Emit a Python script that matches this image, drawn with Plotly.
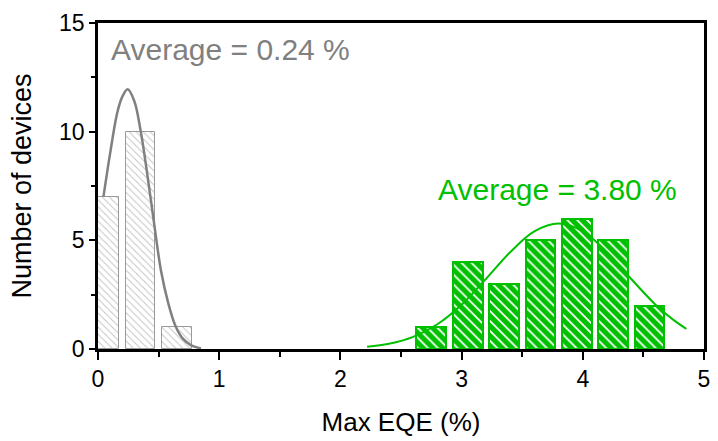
import plotly.graph_objects as go

# ---- data ----
gray_centers = [0.05, 0.35, 0.65]
gray_counts = [7, 10, 1]
green_centers = [2.75, 3.05, 3.35, 3.65, 3.95, 4.25, 4.55]
green_counts = [1, 4, 3, 5, 6, 5, 2]
bar_width = 0.245

gray_fit_x = [0.045, 0.10, 0.16, 0.20, 0.245, 0.30, 0.35, 0.40, 0.46, 0.52, 0.58, 0.64, 0.70, 0.77, 0.85]
gray_fit_y = [7.0, 9.0, 10.9, 11.6, 11.95, 11.4, 10.1, 8.3, 5.9, 3.6, 2.1, 1.05, 0.48, 0.17, 0.03]
green_fit_x = [2.22, 2.40, 2.60, 2.80, 3.00, 3.20, 3.40, 3.60, 3.80, 4.00, 4.20, 4.40, 4.60, 4.75, 4.854]
green_fit_y = [0.10, 0.24, 0.56, 1.14, 2.04, 3.22, 4.45, 5.41, 5.77, 5.41, 4.45, 3.22, 2.04, 1.33, 0.93]

x_ticks = [0, 1, 2, 3, 4, 5]
y_ticks = [0, 5, 10, 15]

GRAY = "#808080"
GREEN = "#00C000"
FONT = "Liberation Sans, Arial, sans-serif"

fig = go.Figure()
fig.add_trace(go.Bar(
    x=gray_centers, y=gray_counts, width=[bar_width] * len(gray_centers),
    marker=dict(color="white", line=dict(color="#9a9a9a", width=1),
                pattern=dict(shape="\\", fgcolor="#8a8a8a", bgcolor="white", size=5, solidity=0.2)),
    showlegend=False))
fig.add_trace(go.Bar(
    x=green_centers, y=green_counts, width=[bar_width] * len(green_centers),
    marker=dict(color="white", line=dict(color=GREEN, width=2),
                pattern=dict(shape="\\", fgcolor=GREEN, fgopacity=1, bgcolor="white",
                             size=7, solidity=0.75)),
    showlegend=False))
fig.add_trace(go.Scatter(x=gray_fit_x, y=gray_fit_y, mode="lines",
                         line=dict(color=GRAY, width=2.5, shape="spline"), showlegend=False))
fig.add_trace(go.Scatter(x=green_fit_x, y=green_fit_y, mode="lines",
                         line=dict(color=GREEN, width=2, shape="spline"), showlegend=False))

fig.add_annotation(x=1.09, y=13.78, text="Average = 0.24 %", showarrow=False,
                   xanchor="center", yanchor="middle", font=dict(family=FONT, size=30, color=GRAY))
fig.add_annotation(x=3.79, y=7.32, text="Average = 3.80 %", showarrow=False,
                   xanchor="center", yanchor="middle", font=dict(family=FONT, size=30, color=GREEN))

fig.update_layout(
    width=718, height=441,
    margin=dict(l=98, r=8, t=23, b=90),
    plot_bgcolor="white", paper_bgcolor="white",
    barmode="overlay", bargap=0,
    font=dict(family=FONT, color="black"),
)
fig.update_xaxes(
    range=[0, 5], tickvals=x_ticks, ticktext=[str(v) for v in x_ticks],
    showgrid=False, zeroline=False,
    showline=True, linecolor="black", linewidth=2.5, mirror=True,
    ticks="outside", ticklen=8, tickwidth=2, tickcolor="black",
    tickfont=dict(family=FONT, size=23, color="black"),
    minor=dict(dtick=0.5, tick0=0, ticks="outside", ticklen=5, tickwidth=2, tickcolor="black"),
    title=dict(text="Max EQE (%)", font=dict(family=FONT, size=26, color="black"), standoff=22),
)
fig.update_yaxes(
    range=[0, 15], tickvals=y_ticks, ticktext=[str(v) for v in y_ticks],
    showgrid=False, zeroline=False,
    showline=True, linecolor="black", linewidth=2.5, mirror=True,
    ticks="outside", ticklen=6, tickwidth=2, tickcolor="black",
    tickfont=dict(family=FONT, size=23, color="black"),
    minor=dict(dtick=2.5, tick0=0, ticks="outside", ticklen=4, tickwidth=2, tickcolor="black"),
    title=dict(text="Number of devices", font=dict(family=FONT, size=27, color="black"), standoff=20),
)

fig.write_html("out.html")
